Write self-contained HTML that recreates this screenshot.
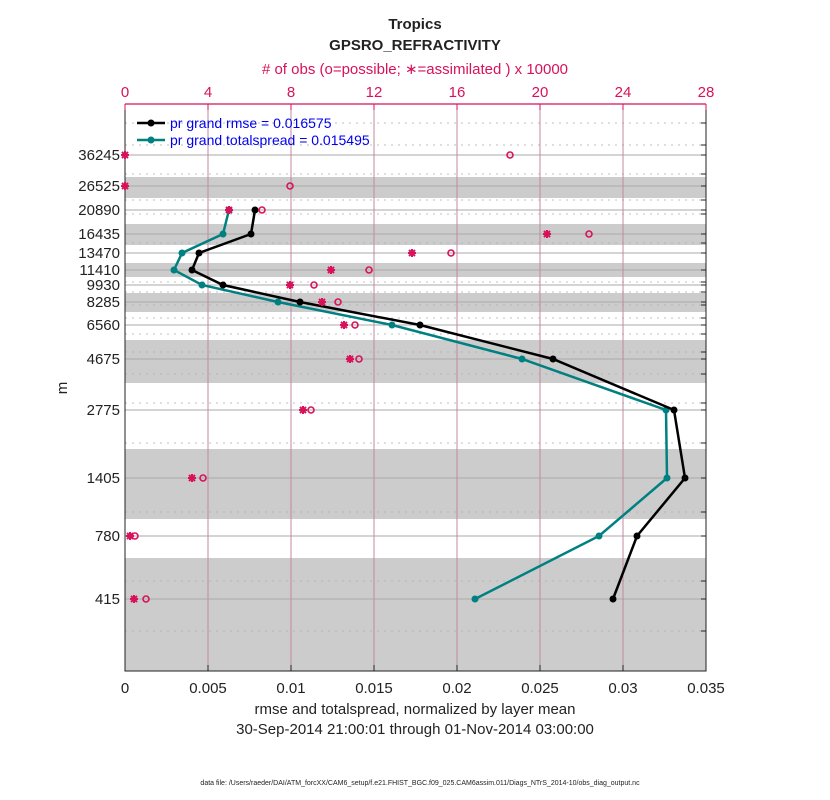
<!DOCTYPE html>
<html><head><style>body{margin:0;background:#fff}svg{display:block;font-family:"Liberation Sans",sans-serif}</style></head>
<body>
<svg width="830" height="800" viewBox="0 0 830 800">
<defs>
<g id="ast"><path d="M-4,0H4M0,-4V4M-3,-3L3,3M-3,3L3,-3" stroke="#d7125a" stroke-width="2"/></g>
<g id="cir"><circle r="3" fill="none" stroke="#d7125a" stroke-width="1.6"/></g>
</defs>
<rect x="125" y="104" width="581" height="567" fill="#fff"/>
<g fill="#cccccc">
<rect x="125" y="177" width="581" height="21"/>
<rect x="125" y="224" width="581" height="21"/>
<rect x="125" y="263" width="581" height="14"/>
<rect x="125" y="293" width="581" height="19"/>
<rect x="125" y="340" width="581" height="43"/>
<rect x="125" y="449" width="581" height="70"/>
<rect x="125" y="558" width="581" height="113"/>
</g>
<g stroke="#aaa" stroke-width="0.7" stroke-dasharray="2,5">
<path d="M125,123H706M125,145H706M125,174H706M125,200H706M125,214H706M125,243H706M125,282H706M125,292H706M125,305H706M125,318H706M125,334H706M125,352H706M125,374H706M125,403H706M125,443H706M125,512H706M125,581H706M125,631H706"/>
</g>
<g stroke="#aaa" stroke-width="1">
<path d="M125,155H706M125,186H706M125,210H706M125,234H706M125,253H706M125,270H706M125,285H706M125,302H706M125,325H706M125,359H706M125,410H706M125,478H706M125,536H706M125,599H706"/>
</g>
<g stroke="#c08aa0" stroke-width="1">
<path d="M208,104V671M291,104V671M374,104V671M457,104V671M540,104V671M623,104V671"/>
</g>
<path d="M125,104V671H706V104" fill="none" stroke="#222" stroke-width="1"/>
<path d="M125,104H706" stroke="#d7125a" stroke-width="1.2"/>
<g stroke="#d7125a"><path d="M125,104v6M208,104v6M291,104v6M374,104v6M457,104v6M540,104v6M623,104v6M706,104v6"/></g>
<g stroke="#222"><path d="M208,671v-6M291,671v-6M374,671v-6M457,671v-6M540,671v-6M623,671v-6"/></g>
<g stroke="#222"><path d="M706,123h-5M706,145h-5M706,155h-5M706,174h-5M706,186h-5M706,200h-5M706,210h-5M706,214h-5M706,234h-5M706,243h-5M706,253h-5M706,270h-5M706,282h-5M706,285h-5M706,292h-5M706,302h-5M706,305h-5M706,318h-5M706,325h-5M706,334h-5M706,352h-5M706,359h-5M706,374h-5M706,403h-5M706,410h-5M706,443h-5M706,478h-5M706,512h-5M706,536h-5M706,581h-5M706,599h-5M706,631h-5"/></g>
<polyline points="229,210 223,234 182,253 174,270 202,285 278,302 392,325 522,359 666,410 667,478 599,536 475,599" fill="none" stroke="#008080" stroke-width="2.5"/>
<g fill="#008080"><circle cx="229" cy="210" r="3.5"/><circle cx="223" cy="234" r="3.5"/><circle cx="182" cy="253" r="3.5"/><circle cx="174" cy="270" r="3.5"/><circle cx="202" cy="285" r="3.5"/><circle cx="278" cy="302" r="3.5"/><circle cx="392" cy="325" r="3.5"/><circle cx="522" cy="359" r="3.5"/><circle cx="666" cy="410" r="3.5"/><circle cx="667" cy="478" r="3.5"/><circle cx="599" cy="536" r="3.5"/><circle cx="475" cy="599" r="3.5"/></g>
<polyline points="255,210 251,234 199,253 192,270 223,285 300,302 420,325 553,359 674,410 685,478 637,536 613,599" fill="none" stroke="#000" stroke-width="2.5"/>
<g fill="#000"><circle cx="255" cy="210" r="3.5"/><circle cx="251" cy="234" r="3.5"/><circle cx="199" cy="253" r="3.5"/><circle cx="192" cy="270" r="3.5"/><circle cx="223" cy="285" r="3.5"/><circle cx="300" cy="302" r="3.5"/><circle cx="420" cy="325" r="3.5"/><circle cx="553" cy="359" r="3.5"/><circle cx="674" cy="410" r="3.5"/><circle cx="685" cy="478" r="3.5"/><circle cx="637" cy="536" r="3.5"/><circle cx="613" cy="599" r="3.5"/></g>
<use href="#ast" x="125" y="155"/><use href="#cir" x="510" y="155"/>
<use href="#ast" x="125" y="186"/><use href="#cir" x="290" y="186"/>
<use href="#ast" x="229" y="210"/><use href="#cir" x="262" y="210"/>
<use href="#ast" x="547" y="234"/><use href="#cir" x="589" y="234"/>
<use href="#ast" x="412" y="253"/><use href="#cir" x="451" y="253"/>
<use href="#ast" x="331" y="270"/><use href="#cir" x="369" y="270"/>
<use href="#ast" x="290" y="285"/><use href="#cir" x="314" y="285"/>
<use href="#ast" x="322" y="302"/><use href="#cir" x="338" y="302"/>
<use href="#ast" x="344" y="325"/><use href="#cir" x="355" y="325"/>
<use href="#ast" x="350" y="359"/><use href="#cir" x="359" y="359"/>
<use href="#ast" x="303" y="410"/><use href="#cir" x="311" y="410"/>
<use href="#ast" x="192" y="478"/><use href="#cir" x="203" y="478"/>
<use href="#ast" x="130" y="536"/><use href="#cir" x="135" y="536"/>
<use href="#ast" x="134" y="599"/><use href="#cir" x="146" y="599"/>
<path d="M137,123H165" stroke="#000" stroke-width="2.5"/><circle cx="151" cy="123" r="3.5"/>
<path d="M137,140H165" stroke="#008080" stroke-width="2.5"/><circle cx="151" cy="140" r="3.5" fill="#008080"/>
<text x="170" y="128" font-size="14" fill="#0000ee">pr grand rmse = 0.016575</text>
<text x="170" y="145" font-size="14" fill="#0000ee">pr grand totalspread = 0.015495</text>
<g font-size="15" fill="#222" text-anchor="end">
<text x="120" y="160">36245</text><text x="120" y="191">26525</text><text x="120" y="215">20890</text><text x="120" y="239">16435</text><text x="120" y="258">13470</text><text x="120" y="275">11410</text><text x="120" y="290">9930</text><text x="120" y="307">8285</text><text x="120" y="330">6560</text><text x="120" y="364">4675</text><text x="120" y="415">2775</text><text x="120" y="483">1405</text><text x="120" y="541">780</text><text x="120" y="604">415</text>
</g>
<g font-size="15" fill="#d7125a" text-anchor="middle">
<text x="125" y="97">0</text><text x="208" y="97">4</text><text x="291" y="97">8</text><text x="374" y="97">12</text><text x="457" y="97">16</text><text x="540" y="97">20</text><text x="623" y="97">24</text><text x="706" y="97">28</text>
<text x="415" y="74">  # of obs (o=possible; ∗=assimilated ) x 10000</text>
</g>
<g font-size="15" fill="#222" text-anchor="middle">
<text x="125" y="693">0</text><text x="208" y="693">0.005</text><text x="291" y="693">0.01</text><text x="374" y="693">0.015</text><text x="457" y="693">0.02</text><text x="540" y="693">0.025</text><text x="623" y="693">0.03</text><text x="706" y="693">0.035</text>
<text x="415" y="714">rmse and totalspread, normalized by layer mean</text>
<text x="415" y="734">30-Sep-2014 21:00:01 through 01-Nov-2014 03:00:00</text>
<text x="415" y="29" font-weight="bold">Tropics</text>
<text x="415" y="50" font-weight="bold">GPSRO_REFRACTIVITY</text>
<text x="67" y="388" transform="rotate(-90 67 388)">m</text>
<text x="420" y="785" font-size="7">data file: /Users/raeder/DAI/ATM_forcXX/CAM6_setup/f.e21.FHIST_BGC.f09_025.CAM6assim.011/Diags_NTrS_2014-10/obs_diag_output.nc</text>
</g>
</svg>
</body></html>
